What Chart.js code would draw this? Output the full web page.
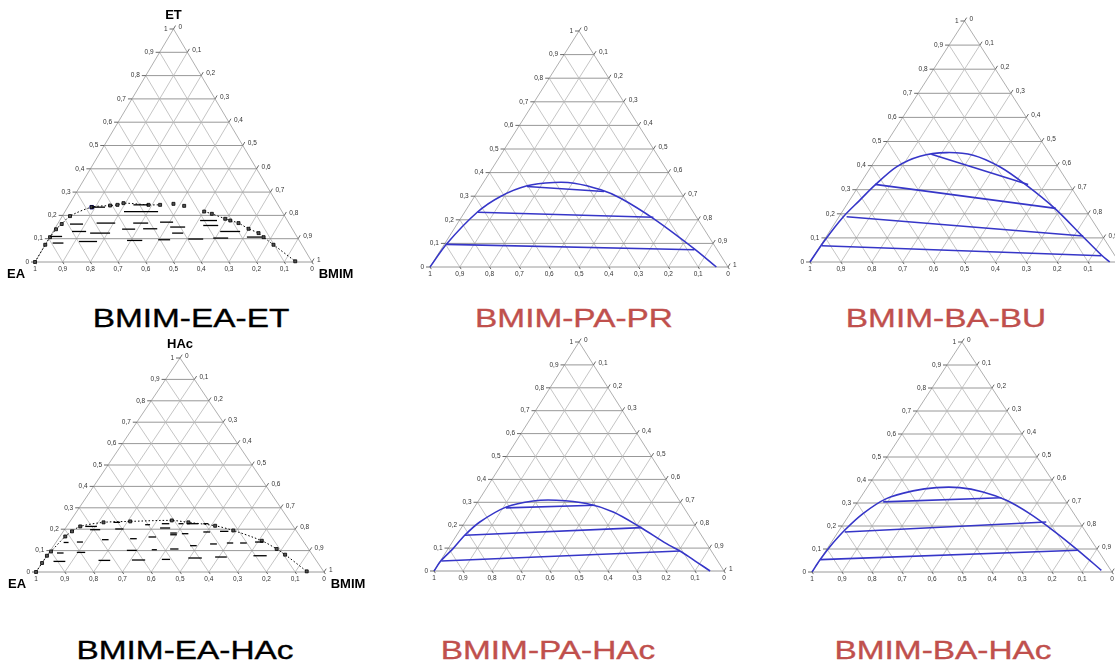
<!DOCTYPE html>
<html><head><meta charset="utf-8">
<script src="https://cdn.jsdelivr.net/npm/chart.js@4.4.1/dist/chart.umd.min.js"></script>
<style>
html,body{margin:0;padding:0;background:#fff;}
#page{position:relative;width:1115px;height:664px;overflow:hidden;background:#fff;}
#page canvas{position:absolute;}
.title{position:absolute;font-family:"Liberation Sans",Arial,sans-serif;font-size:26.5px;line-height:26.5px;white-space:nowrap;transform:translateX(-50%) scaleX(1.26);transform-origin:50% 50%;-webkit-text-stroke:0.35px currentColor;}
</style></head><body><div id="page"></div>
<script>
// ---------- tick values / labels ----------
const tickValues = [0,0.1,0.2,0.3,0.4,0.5,0.6,0.7,0.8,0.9,1];
const tickLabels = ['0','0,1','0,2','0,3','0,4','0,5','0,6','0,7','0,8','0,9','1'];

// Every composition point is [top component fraction, BMIM fraction]
// ---------- BMIM-EA-ET ----------
const etCurveLeft = [[0,0],[0.074,0],[0.1065,0.001],[0.1406,0.0056],[0.163,0.015],[0.197,0.028],[0.2354,0.087],[0.2423,0.15],[0.2453,0.175],[0.2526,0.193],[0.2453,0.287],[0.2453,0.329]];
const etCurveRight = [[0.2166,0.5025],[0.2068,0.535],[0.1854,0.594],[0.178,0.616],[0.167,0.651],[0.1426,0.6996],[0.124,0.745],[0.1065,0.772],[0.074,0.824],[0.003,0.938]];
const etLoose = [[0.2496,0.375],[0.241,0.418]];
const etBlue = [[0.2354,0.087]];
// dashes: [ET fraction, BMIM start, BMIM end]
const etDashes = [
 [0.2166,0.213,0.336],[0.1627,0.045,0.092],[0.167,0.139,0.206],[0.167,0.271,0.325],[0.171,0.366,0.413],
 [0.131,0.068,0.119],[0.124,0.137,0.209],[0.141,0.244,0.291],[0.1426,0.319,0.370],[0.15,0.413,0.467],
 [0.124,0.433,0.473],[0.0813,0.023,0.062],[0.088,0.115,0.180],[0.0925,0.286,0.341],[0.0955,0.397,0.440],
 [0.1096,0.0,0.043],[0.178,0.507,0.568],[0.1567,0.529,0.583],[0.0985,0.504,0.558],[0.1027,0.592,0.646],
 [0.131,0.603,0.675],[0.107,0.7115,0.7655],[0.2453,0.2327,0.287],[0.2354,0.087,0.135]
];

// ---------- BMIM-PA-PR ----------
const prBinodal = [[0,0],[0.0986,0.007],[0.231,0.042],[0.299,0.087],[0.344,0.154],[0.358,0.237],[0.355,0.306],[0.327,0.41],[0.2915,0.494],[0.203,0.651],[0.076,0.85],[0,0.961]];
const prTieLines = [[[0.096,0.008],[0.073,0.851]],[[0.232,0.044],[0.211,0.644]],[[0.341,0.155],[0.32,0.424]]];

// ---------- BMIM-BA-BU ----------
const buBinodal = [[0,0],[0.0912,0.003],[0.188,0.014],[0.257,0.033],[0.319,0.0505],[0.395,0.0825],[0.439,0.1365],[0.454,0.215],[0.443,0.3065],[0.395,0.4165],[0.319,0.5405],[0.2224,0.681],[0.112,0.822],[0.029,0.9285],[0,0.97]];
const buTieLines = [[[0.0677,0.004],[0.026,0.93]],[[0.188,0.0245],[0.108,0.83]],[[0.322,0.049],[0.2224,0.684]],[[0.4475,0.169],[0.322,0.545]]];

// ---------- BMIM-EA-HAc ----------
const hacCurve = [[0,0],[0.042,0],[0.076,0],[0.096,0.004],[0.166,0.0186],[0.19,0.03],[0.213,0.047],[0.232,0.1185],[0.2364,0.209],[0.241,0.351],[0.232,0.413],[0.216,0.514],[0.194,0.588],[0.146,0.711],[0.1075,0.782],[0.081,0.8245],[0.003,0.9385]];
const hacDashes = [
 [0.213,0.0645,0.105],[0.232,0.153,0.176],[0.221,0.2685,0.2855],[0.2257,0.324,0.350],[0.1977,0.089,0.124],
 [0.201,0.1745,0.2035],[0.2056,0.328,0.363],[0.138,0.027,0.044],[0.140,0.072,0.093],[0.151,0.1535,0.1765],
 [0.1556,0.249,0.272],[0.1636,0.309,0.335],[0.174,0.379,0.402],[0.0888,0.0284,0.0513],[0.0916,0.096,0.125],
 [0.101,0.265,0.2995],[0.104,0.350,0.3677],[0.1075,0.412,0.441],[0.0495,0.036,0.077],[0.0542,0.190,0.2306],
 [0.056,0.305,0.351],[0.0589,0.4075,0.436],[0.2257,0.382,0.399],[0.2257,0.411,0.451],[0.2257,0.468,0.486],
 [0.182,0.375,0.398],[0.179,0.417,0.4395],[0.187,0.4875,0.511],[0.19,0.544,0.573],[0.123,0.4735,0.4965],
 [0.131,0.539,0.5625],[0.1355,0.595,0.617],[0.1355,0.641,0.664],[0.140,0.6906,0.719],[0.0654,0.496,0.543],
 [0.070,0.587,0.6275],[0.076,0.717,0.763]
];

// ---------- BMIM-PA-HAc ----------
const paHacBinodal = [[0,0],[0.0466,0.002],[0.0977,0.0168],[0.156,0.028],[0.214,0.051],[0.28,0.11],[0.306,0.189],[0.309,0.2675],[0.2945,0.3787],[0.258,0.489],[0.1924,0.614],[0.1195,0.742],[0.083,0.8125],[0.039,0.8865],[0,0.952]];
const paHacTieLines = [[[0.0437,0.0035],[0.0875,0.804]],[[0.156,0.028],[0.1895,0.621]],[[0.2755,0.11],[0.287,0.411]]];

// ---------- BMIM-BA-HAc ----------
const baHacBinodal = [[0,0],[0.0508,0.0002],[0.1089,0.0045],[0.1814,0.018],[0.254,0.043],[0.319,0.0885],[0.3527,0.1605],[0.367,0.231],[0.367,0.3086],[0.348,0.396],[0.312,0.492],[0.254,0.5986],[0.1814,0.7125],[0.0943,0.8396],[0.0073,0.9608]];
const baHacTieLines = [[[0.0537,0.001],[0.0943,0.84]],[[0.174,0.022],[0.2177,0.672]],[[0.3048,0.085],[0.323,0.47]]];

const titles = ['BMIM-EA-ET','BMIM-PA-PR','BMIM-BA-BU','BMIM-EA-HAc','BMIM-PA-HAc','BMIM-BA-HAc'];
const etNames = ['ET','EA','BMIM'];
const hacNames = ['HAc','EA','BMIM'];

// ---------- layout & style ----------
const PAD = {left:40, right:52, top:24, bottom:24};
const layout = [
 {x0:35, x1:312, top:29, base:262, tx:191, ty:327, color:'#000000'},
 {x0:430, x1:728, top:31, base:267, tx:574, ty:327, color:'#C0504D'},
 {x0:810, x1:1119, top:21, base:262, tx:946, ty:327, color:'#C0504D'},
 {x0:36, x1:324, top:358, base:572, tx:185, ty:659, color:'#000000'},
 {x0:434, x1:724, top:342, base:571, tx:548, ty:659, color:'#C0504D'},
 {x0:812, x1:1112, top:342, base:572, tx:943, ty:659, color:'#C0504D'}
];
const BLUE = '#3636c8';
const HGRID = '#8c8c8c', DGRID = '#b6b6b6', EDGE = '#9a9a9a';

const pt = (c,b)=>({x:b+c/2, y:c});
function seg(p,q,style){
  return Object.assign({data:[pt(p[0],p[1]),pt(q[0],q[1])], showLine:true, pointRadius:0, borderWidth:1, fill:false, clip:false}, style);
}
function curve(points, style){
  return Object.assign({data:points.map(p=>pt(p[0],p[1])), showLine:true, fill:false, clip:false, tension:0.3, pointRadius:0}, style);
}
function gridSets(){
  const s=[];
  tickValues.forEach(k=>{
    if(k===1) return;
    s.push(seg([k,0],[k,1-k],{borderColor:k===0?EDGE:HGRID, borderWidth:k===0?1:0.9, order:10}));
    s.push(seg([0,k],[1-k,k],{borderColor:k===0?EDGE:DGRID, borderWidth:0.8, order:10}));
    s.push(seg([0,1-k],[1-k,0],{borderColor:k===0?EDGE:DGRID, borderWidth:0.8, order:10}));
  });
  return s;
}
function dashSets(list){
  return list.map(d=>seg([d[0],d[1]],[d[0],d[2]],{borderColor:'#000', borderWidth:1.3}));
}
const markerStyle = {pointStyle:'rect', pointRadius:2.1, pointBackgroundColor:'#555', pointBorderColor:'#000', pointBorderWidth:0.8};

const ternaryLabels = {
  id:'ternaryLabels',
  afterDraw(chart, args, opts){
    const ctx = chart.ctx, xs = chart.scales.x, ys = chart.scales.y;
    const P = (c,b)=>[xs.getPixelForValue(b+c/2), ys.getPixelForValue(c)];
    const norm=(dx,dy)=>{const l=Math.hypot(dx,dy);return [dx/l,dy/l];};
    const [ax,ay]=P(1,0), [lx,ly]=P(0,0), [rx,ry]=P(0,1);
    const ur = norm(ax-lx, ay-ly);
    const dr = norm(rx-ax, ry-ay);
    ctx.save();
    ctx.strokeStyle='#444'; ctx.lineWidth=0.8; ctx.fillStyle='#333';
    ctx.font='6.5px "Liberation Sans", Arial, sans-serif';
    const line=(x1,y1,x2,y2)=>{ctx.beginPath();ctx.moveTo(x1,y1);ctx.lineTo(x2,y2);ctx.stroke();};
    tickValues.forEach((k,i)=>{
      let [px,py]=P(k,0);
      line(px-4,py,px,py);
      ctx.textAlign='right'; ctx.textBaseline='middle';
      ctx.fillText(tickLabels[i], px-6, py);
      [px,py]=P(1-k,k);
      line(px,py,px+ur[0]*4,py+ur[1]*4);
      ctx.textAlign='left'; ctx.textBaseline='middle';
      ctx.fillText(tickLabels[i], px+5, py-2);
      [px,py]=P(0,1-k);
      line(px,py,px+dr[0]*2.5,py+dr[1]*2.5);
      ctx.textAlign='center'; ctx.textBaseline='middle';
      ctx.fillText(tickLabels[i], px, py+7);
    });
    if(opts.names){
      ctx.fillStyle='#000';
      ctx.font='bold 13px "Liberation Sans", Arial, sans-serif';
      ctx.textAlign='center'; ctx.textBaseline='middle';
      ctx.fillText(opts.names[0], ax, ay-14);
      ctx.fillText(opts.names[1], lx-19, ly+12);
      ctx.fillText(opts.names[2], rx+24, ry+12);
    }
    ctx.restore();
  }
};

const panelSets = [
  [...gridSets(), ...dashSets(etDashes),
   curve(etCurveLeft, Object.assign({borderColor:'#000', borderWidth:1, borderDash:[1.5,2]}, markerStyle)),
   curve(etCurveRight, Object.assign({borderColor:'#000', borderWidth:1, borderDash:[1.5,2]}, markerStyle)),
   curve(etLoose, Object.assign({showLine:false}, markerStyle)),
   curve(etBlue, {showLine:false, pointStyle:'rect', pointRadius:2.4, pointBackgroundColor:'#2020c0', pointBorderColor:'#1010a0'})],
  [...gridSets(), curve(prBinodal,{borderColor:BLUE,borderWidth:1.6}), ...prTieLines.map(t=>seg(t[0],t[1],{borderColor:BLUE,borderWidth:1.6}))],
  [...gridSets(), curve(buBinodal,{borderColor:BLUE,borderWidth:1.6}), ...buTieLines.map(t=>seg(t[0],t[1],{borderColor:BLUE,borderWidth:1.6}))],
  [...gridSets(), ...dashSets(hacDashes),
   curve(hacCurve, Object.assign({borderColor:'#000', borderWidth:1, borderDash:[1.5,2]}, markerStyle))],
  [...gridSets(), curve(paHacBinodal,{borderColor:BLUE,borderWidth:1.6}), ...paHacTieLines.map(t=>seg(t[0],t[1],{borderColor:BLUE,borderWidth:1.6}))],
  [...gridSets(), curve(baHacBinodal,{borderColor:BLUE,borderWidth:1.6}), ...baHacTieLines.map(t=>seg(t[0],t[1],{borderColor:BLUE,borderWidth:1.6}))]
];
const panelNames = [etNames, null, null, hacNames, null, null];

const page = document.getElementById('page');
layout.forEach((L,i)=>{
  const cv = document.createElement('canvas');
  const w = L.x1-L.x0+PAD.left+PAD.right, h = L.base-L.top+PAD.top+PAD.bottom;
  cv.width = w; cv.height = h;
  cv.style.left = (L.x0-PAD.left)+'px'; cv.style.top = (L.top-PAD.top)+'px';
  cv.style.width = w+'px'; cv.style.height = h+'px';
  page.appendChild(cv);
  new Chart(cv, {
    type:'scatter',
    data:{datasets:panelSets[i]},
    options:{
      responsive:false, animation:false, devicePixelRatio:1,
      layout:{padding:PAD},
      scales:{x:{type:'linear',min:0,max:1,display:false},y:{type:'linear',min:0,max:1,display:false}},
      plugins:{legend:{display:false}, tooltip:{enabled:false}, ternaryLabels:{names:panelNames[i]}},
      elements:{point:{radius:0}}
    },
    plugins:[ternaryLabels]
  });
  const t = document.createElement('div');
  t.className='title'; t.textContent=titles[i]; t.style.color=L.color;
  t.style.left=L.tx+'px'; t.style.top=(L.ty-22)+'px';
  page.appendChild(t);
});
</script></body></html>
